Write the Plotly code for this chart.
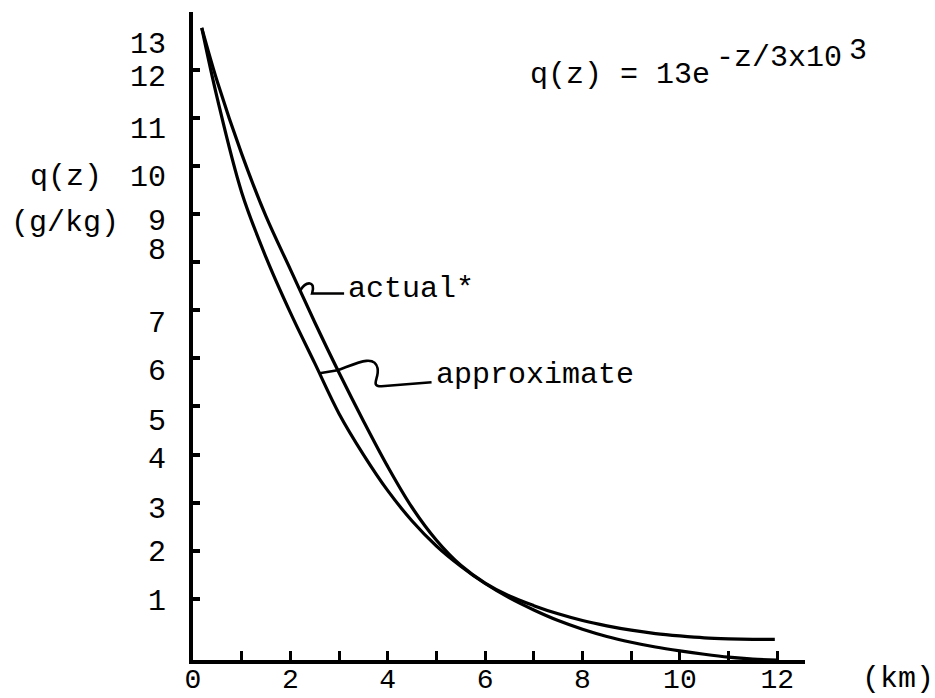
import numpy as np
import plotly.graph_objects as go

# ---- data ----
z_actual = [0.18, 0.5, 1.0, 1.5, 2.0, 2.5, 3.0, 3.5, 4.0, 4.5, 5.0, 5.5, 6.0,
            6.5, 7.0, 7.5, 8.0, 8.5, 9.0, 9.5, 10.0, 10.5, 11.0, 11.5, 11.95]
q_actual = [12.87, 11.75, 10.25, 8.95, 7.85, 6.75, 5.7, 4.7, 3.75, 2.9, 2.22, 1.7, 1.33,
            1.06, 0.86, 0.69, 0.55, 0.44, 0.35, 0.28, 0.23, 0.19, 0.17, 0.16, 0.16]

z_approx = [0.18, 0.5, 1.0, 1.5, 2.0, 2.5, 3.0, 3.5, 4.0, 4.5, 5.0, 5.5, 6.0,
            6.5, 7.0, 7.5, 8.0, 8.5, 9.0, 9.5, 10.0, 10.5, 11.0, 11.5, 12.0]
q_approx = [12.87, 11.4, 9.45, 8.1, 6.95, 5.9, 4.85, 4.0, 3.25, 2.62, 2.1, 1.68, 1.32,
            1.02, 0.77, 0.55, 0.37, 0.22, 0.1, 0.0, -0.08, -0.15, -0.21, -0.25, -0.27]

x_tick_vals = list(range(0, 13))
x_tick_text = ["0", "", "2", "", "4", "", "6", "", "8", "", "10", "", "12"]

y_tick_vals = list(range(1, 13))
y_label_text = ["1", "2", "3", "4", "5", "6", "7", "8", "9", "10", "11", "12", "13"]
y_label_pos = [0.98, 2.0, 2.91, 3.93, 4.72, 5.76, 6.76, 8.28, 8.88, 9.81, 10.79, 11.89, 12.56]

FONT = "Liberation Mono, Courier New, monospace"
FS = 30
X_RANGE = [0, 12.57]
Y_RANGE = [-0.27, 13.2]

fig = go.Figure()
fig.add_trace(go.Scatter(x=z_approx, y=q_approx, mode="lines", name="approximate",
                         line=dict(color="black", width=3.2, shape="spline", smoothing=1),
                         showlegend=False))
fig.add_trace(go.Scatter(x=z_actual, y=q_actual, mode="lines", name="actual",
                         line=dict(color="black", width=3.2, shape="spline", smoothing=1),
                         showlegend=False))
# carrier for the y tick labels axis
fig.add_trace(go.Scatter(x=[None], y=[None], yaxis="y2", showlegend=False, hoverinfo="skip"))

# ---- leader squiggles (anchored on the curves) ----
PX = 1 / 48.7   # data units per pixel in x
PY = 1 / 48.1   # data units per pixel in y


def anchor(z0, zs, qs):
    q0 = float(np.interp(z0, zs, qs))

    def P(dx, dy):
        return f"{z0 + dx * PX:.4f},{q0 - dy * PY:.4f}"
    return q0, P


za = 2.2
q0, P = anchor(za, z_actual, q_actual)
path_a = f"M {P(0,0)} C {P(6,-10)} {P(16,-10)} {P(12,3)} L {P(44,3)}"
zp = 2.6
q1, P2 = anchor(zp, z_approx, q_approx)
path_p = (f"M {P2(0,0)} L {P2(18,-3)} C {P2(35,-9)} {P2(55,-20)} {P2(58,-5)} "
          f"C {P2(60,5)} {P2(50,13)} {P2(62,13)} L {P2(112,9)}")
for pth in (path_a, path_p):
    fig.add_shape(type="path", path=pth, xref="x", yref="y",
                  line=dict(color="black", width=2.6))

ann_font = dict(family=FONT, size=FS, color="black")
annotations = [
    dict(x=za + 46 * PX, y=q0 + 2 * PY, text="actual*", xanchor="left", yanchor="middle"),
    dict(x=zp + 114 * PX, y=q1 - 2 * PY, text="approximate", xanchor="left", yanchor="middle"),
    dict(x=6.88, y=11.89, text="q(z) = 13e", xanchor="left", yanchor="middle"),
    dict(x=10.70, y=12.24, text="-z/3x10", xanchor="left", yanchor="middle"),
    dict(x=1.068, xref="paper", y=0.94, yref="paper", text="3", xanchor="left", yanchor="middle"),
    dict(x=-0.27, xref="paper", y=9.77, text="q(z)", xanchor="left", yanchor="middle"),
    dict(x=-0.30, xref="paper", y=8.81, text="(g/kg)", xanchor="left", yanchor="middle"),
    dict(x=1.09, xref="paper", y=-0.030, yref="paper", text="(km)", xanchor="left", yanchor="middle"),
]
for a in annotations:
    a.setdefault("xref", "x")
    a.setdefault("yref", "y")
    fig.add_annotation(showarrow=False, font=ann_font, **a)

fig.update_layout(
    width=935, height=698,
    margin=dict(l=193, r=130, t=12, b=38),
    paper_bgcolor="white", plot_bgcolor="white",
    font=dict(family=FONT, size=FS, color="black"),
    xaxis=dict(range=X_RANGE, tickvals=x_tick_vals, ticktext=x_tick_text,
               ticks="inside", ticklen=9, tickwidth=3, tickcolor="black",
               showline=True, linewidth=4, linecolor="black",
               showgrid=False, zeroline=False, ticklabelstandoff=-10,
               automargin=False,
               tickfont=dict(family=FONT, size=28, color="black")),
    yaxis=dict(range=Y_RANGE, tickvals=y_tick_vals, showticklabels=False,
               ticks="inside", ticklen=7, tickwidth=3.5, tickcolor="black",
               showline=True, linewidth=4, linecolor="black",
               showgrid=False, zeroline=False, automargin=False),
    yaxis2=dict(range=Y_RANGE, overlaying="y", side="left", tickvals=y_label_pos,
                ticktext=y_label_text, ticks="", showline=False, showgrid=False,
                zeroline=False, ticklabelstandoff=26, automargin=False,
                tickfont=dict(family=FONT, size=FS, color="black")),
    showlegend=False,
)

fig.write_html("out.html")
